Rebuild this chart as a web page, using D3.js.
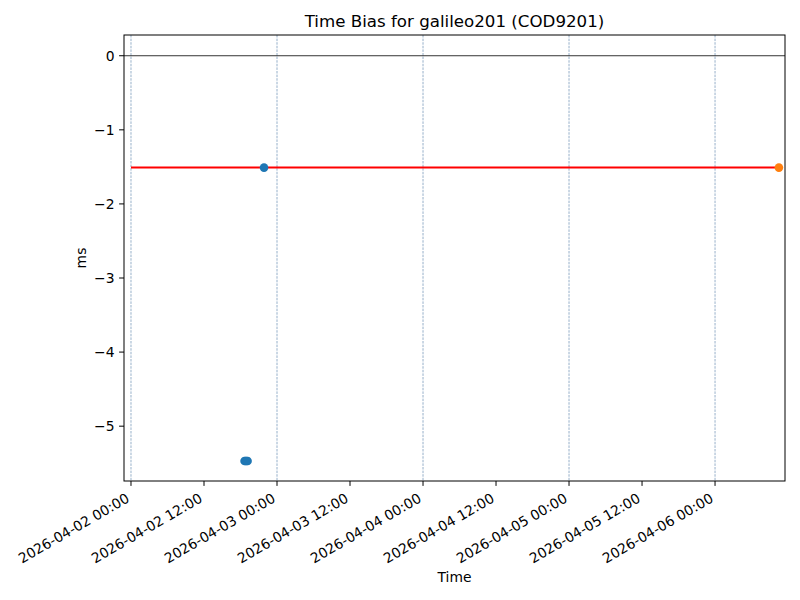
<!DOCTYPE html>
<html lang="en">
<head>
  <meta charset="UTF-8" />
  <title>Time Bias for galileo201</title>
  <script src="https://d3js.org/d3.v7.min.js"></script>
  <style>
    * { margin: 0; padding: 0; }
    body { background: #fff; width: 800px; height: 600px; overflow: hidden; }
    svg { font-family: 'DejaVu Sans', sans-serif; }
  </style>
</head>
<body>
  <svg id="chart" width="800" height="600"></svg>

  <script>
    // data
    const blueTimes = ['2026-04-02 18:40', '2026-04-02 18:50', '2026-04-02 19:00', '2026-04-02 19:10', '2026-04-02 21:52'];
    const blueValues = [-5.47, -5.47, -5.47, -5.47, -1.51];
    const orangeTimes = ['2026-04-06 10:30'];
    const orangeValues = [-1.51];
    const meanLine = { start: '2026-04-02 00:00', end: '2026-04-06 10:30', value: -1.51 };
    const dayLines = ['2026-04-02 00:00', '2026-04-03 00:00', '2026-04-04 00:00', '2026-04-05 00:00', '2026-04-06 00:00'];
    const xTicks = ['2026-04-02 00:00', '2026-04-02 12:00', '2026-04-03 00:00', '2026-04-03 12:00',
      '2026-04-04 00:00', '2026-04-04 12:00', '2026-04-05 00:00', '2026-04-05 12:00', '2026-04-06 00:00'];
    const yTicks = [0, -1, -2, -3, -4, -5];
    const xLimits = ['2026-04-01 22:51', '2026-04-06 11:30'];
    const yLimits = [-5.74, 0.28];

    const parse = d3.utcParse('%Y-%m-%d %H:%M');
    const fmt = d3.utcFormat('%Y-%m-%d %H:%M');

    const m = { left: 124, right: 785, top: 35, bottom: 481 };
    const fs = 13.89;
    const svg = d3.select('#chart');

    const x = d3.scaleUtc().domain(xLimits.map(parse)).range([m.left, m.right]);
    const y = d3.scaleLinear().domain(yLimits).range([m.bottom, m.top]);

    // day grid lines
    svg.selectAll('line.day').data(dayLines).enter().append('line')
      .attr('x1', d => x(parse(d))).attr('x2', d => x(parse(d)))
      .attr('y1', m.top).attr('y2', m.bottom)
      .attr('stroke', '#4f7aa5').attr('stroke-opacity', 0.85)
      .attr('stroke-width', 0.7).attr('stroke-dasharray', '2.5,1.1');

    // zero line
    svg.append('line')
      .attr('x1', m.left).attr('x2', m.right)
      .attr('y1', y(0)).attr('y2', y(0))
      .attr('stroke', '#000').attr('stroke-width', 0.8);

    // mean line
    svg.append('line')
      .attr('x1', x(parse(meanLine.start))).attr('x2', x(parse(meanLine.end)))
      .attr('y1', y(meanLine.value)).attr('y2', y(meanLine.value))
      .attr('stroke', '#ff0000').attr('stroke-width', 2);

    svg.selectAll('circle.blue').data(blueTimes).enter().append('circle')
      .attr('cx', d => x(parse(d)))
      .attr('cy', (d, i) => y(blueValues[i]))
      .attr('r', 4.3).attr('fill', '#1f77b4');

    svg.selectAll('circle.orange').data(orangeTimes).enter().append('circle')
      .attr('cx', d => x(parse(d)))
      .attr('cy', (d, i) => y(orangeValues[i]))
      .attr('r', 4.3).attr('fill', '#ff7f0e');

    // frame
    svg.append('rect')
      .attr('x', m.left).attr('y', m.top)
      .attr('width', m.right - m.left).attr('height', m.bottom - m.top)
      .attr('fill', 'none').attr('stroke', '#000').attr('stroke-width', 1);

    // x ticks
    const xt = svg.append('g');
    xTicks.forEach(t => {
      const px = x(parse(t));
      xt.append('line')
        .attr('x1', px).attr('x2', px)
        .attr('y1', m.bottom).attr('y2', m.bottom + 4.9)
        .attr('stroke', '#000').attr('stroke-width', 1);
      xt.append('text')
        .attr('transform', `translate(${px - 6},${m.bottom + 11}) rotate(-30)`)
        .attr('text-anchor', 'end')
        .attr('dy', '0.76em')
        .attr('font-size', fs)
        .text(fmt(parse(t)));
    });

    // y ticks
    const yt = svg.append('g');
    yTicks.forEach(v => {
      yt.append('line')
        .attr('x1', m.left - 4.9).attr('x2', m.left)
        .attr('y1', y(v)).attr('y2', y(v))
        .attr('stroke', '#000').attr('stroke-width', 1);
      yt.append('text')
        .attr('x', m.left - 9.5).attr('y', y(v))
        .attr('dy', '0.35em')
        .attr('text-anchor', 'end')
        .attr('font-size', fs)
        .text(v < 0 ? '\u2212' + Math.abs(v) : v);
    });

    svg.append('text')
      .attr('x', (m.left + m.right) / 2).attr('y', 27)
      .attr('text-anchor', 'middle').attr('font-size', 16.67)
      .text('Time Bias for galileo201 (COD9201)');

    svg.append('text')
      .attr('x', (m.left + m.right) / 2).attr('y', 582)
      .attr('text-anchor', 'middle').attr('font-size', fs)
      .text('Time');

    svg.append('text')
      .attr('transform', `translate(86,${(m.top + m.bottom) / 2}) rotate(-90)`)
      .attr('text-anchor', 'middle').attr('font-size', fs)
      .text('ms');
  </script>
</body>
</html>
